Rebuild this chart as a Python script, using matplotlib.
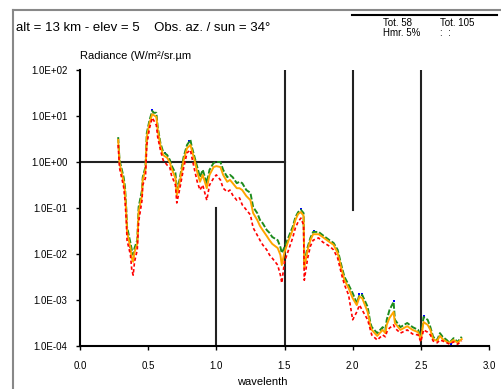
import numpy as np
import matplotlib
matplotlib.use("Agg")
import matplotlib.pyplot as plt

# wavelength (µm) and log10 radiance
wl = [0.28, 0.29, 0.32, 0.33, 0.34, 0.345, 0.37, 0.38, 0.39, 0.40,
      0.42, 0.43, 0.455, 0.46, 0.48, 0.49, 0.51, 0.53, 0.54, 0.56,
      0.57, 0.59, 0.61, 0.64, 0.66, 0.67, 0.70, 0.71, 0.73, 0.76,
      0.785, 0.81, 0.82, 0.84, 0.86, 0.88, 0.90, 0.93, 0.95, 0.98,
      1.00, 1.03, 1.05, 1.08, 1.10, 1.12, 1.15, 1.17, 1.19, 1.22,
      1.25, 1.27, 1.30, 1.32, 1.34, 1.37, 1.39, 1.41, 1.45, 1.47,
      1.48, 1.50, 1.53, 1.56, 1.58, 1.60, 1.62, 1.64, 1.645, 1.67,
      1.69, 1.71, 1.75, 1.78, 1.83, 1.86, 1.89, 1.92, 1.94, 1.97,
      2.00, 2.03, 2.05, 2.07, 2.11, 2.13, 2.14, 2.18, 2.22, 2.24,
      2.25, 2.27, 2.30, 2.31, 2.35, 2.40, 2.44, 2.48, 2.50, 2.52,
      2.55, 2.57, 2.59, 2.62, 2.64, 2.66, 2.69, 2.71, 2.74, 2.77, 2.80]

green_log = [0.54, 0.04, -0.33, -0.54, -1.04, -1.41, -1.76, -1.91, -2.02, -1.87,
             -1.70, -0.98, -0.61, -0.33, -0.11, 0.63, 0.91, 1.11, 1.07, 1.07,
             0.76, 0.41, 0.22, 0.15, 0.04, -0.07, -0.24, -0.61, -0.39, 0.11,
             0.37, 0.48, 0.33, 0.11, -0.11, -0.33, -0.17, -0.46, -0.17, -0.02,
             0.00, 0.00, -0.17, -0.33, -0.28, -0.33, -0.46, -0.43, -0.46, -0.61,
             -0.67, -0.98, -1.11, -1.26, -1.33, -1.48, -1.54, -1.63, -1.70, -1.85,
             -1.98, -1.85, -1.63, -1.41, -1.20, -1.09, -1.04, -1.11, -2.20, -1.85,
             -1.65, -1.52, -1.52, -1.59, -1.70, -1.76, -1.91, -2.28, -2.50, -2.67,
             -2.85, -3.07, -2.89, -2.89, -3.15, -3.50, -3.59, -3.72, -3.59, -3.65,
             -3.43, -3.22, -3.04, -3.43, -3.59, -3.50, -3.59, -3.65, -3.80, -3.37,
             -3.43, -3.59, -3.80, -3.87, -3.72, -3.80, -3.87, -3.93, -3.83, -3.91, -3.80]

orange_log = [0.48, -0.02, -0.43, -0.65, -1.15, -1.52, -1.87, -2.09, -2.17, -1.96,
              -1.78, -1.09, -0.72, -0.39, -0.17, 0.54, 0.85, 1.04, 1.02, 0.98,
              0.70, 0.35, 0.15, 0.09, -0.02, -0.13, -0.35, -0.72, -0.46, 0.04,
              0.30, 0.37, 0.26, 0.04, -0.22, -0.43, -0.28, -0.57, -0.28, -0.11,
              -0.09, -0.11, -0.28, -0.43, -0.39, -0.46, -0.57, -0.57, -0.61, -0.74,
              -0.83, -1.11, -1.26, -1.39, -1.48, -1.61, -1.70, -1.78, -1.87, -2.02,
              -2.24, -1.96, -1.70, -1.48, -1.26, -1.13, -1.09, -1.17, -2.30, -1.91,
              -1.70, -1.57, -1.57, -1.63, -1.74, -1.80, -1.98, -2.35, -2.57, -2.74,
              -2.96, -3.11, -2.93, -2.96, -3.26, -3.57, -3.65, -3.78, -3.65, -3.72,
              -3.54, -3.39, -3.26, -3.50, -3.65, -3.57, -3.65, -3.70, -3.87, -3.48,
              -3.54, -3.65, -3.85, -3.89, -3.78, -3.85, -3.91, -3.93, -3.87, -3.93, -3.85]

red_log = [0.37, -0.13, -0.54, -0.83, -1.30, -1.70, -2.02, -2.35, -2.46, -2.17,
           -1.91, -1.30, -0.83, -0.50, -0.35, 0.37, 0.74, 0.96, 0.91, 0.80,
           0.54, 0.26, 0.04, -0.07, -0.13, -0.28, -0.50, -0.89, -0.61, -0.13,
           0.20, 0.26, 0.11, -0.17, -0.43, -0.61, -0.50, -0.83, -0.50, -0.35,
           -0.28, -0.39, -0.57, -0.65, -0.61, -0.72, -0.83, -0.78, -0.93, -1.04,
           -1.15, -1.43, -1.59, -1.70, -1.80, -1.91, -2.02, -2.09, -2.24, -2.46,
           -2.63, -2.17, -1.91, -1.65, -1.43, -1.30, -1.22, -1.37, -2.57, -2.09,
           -1.83, -1.70, -1.65, -1.74, -1.83, -1.91, -2.09, -2.46, -2.67, -2.89,
           -3.43, -3.26, -3.11, -3.22, -3.43, -3.65, -3.76, -3.87, -3.76, -3.80,
           -3.70, -3.61, -3.54, -3.61, -3.72, -3.65, -3.74, -3.76, -3.91, -3.65,
           -3.70, -3.76, -3.89, -3.93, -3.87, -3.89, -3.93, -3.96, -3.91, -3.96, -3.89]

# a few blue points that show through
blue_wl = [0.37, 0.53, 0.62, 0.80, 1.62, 1.72, 2.05, 2.07, 2.30, 2.52, 2.72]
blue_log = [-1.85, 1.13, 0.20, 0.45, -1.02, -1.50, -2.87, -2.87, -3.02, -3.35, -3.96]

x_ticks = [0.0, 0.5, 1.0, 1.5, 2.0, 2.5, 3.0]
x_labels = ["0.0", "0.5", "1.0", "1.5", "2.0", "2.5", "3.0"]
y_ticks = [1e-4, 1e-3, 1e-2, 1e-1, 1e0, 1e1, 1e2]
y_labels = ["1.0E-04", "1.0E-03", "1.0E-02", "1.0E-01", "1.0E+00", "1.0E+01", "1.0E+02"]

plt.rcParams['font.family'] = ['Liberation Sans', 'DejaVu Sans']

fig = plt.figure(figsize=(5.01, 3.89), dpi=100)
ax = fig.add_axes([80 / 501, 1 - 346 / 389, 409 / 501, 276 / 389])

wl = np.array(wl)
ax.plot(blue_wl, 10 ** np.array(blue_log), 's', color='#0000ff', ms=2, mew=0)
ax.plot(wl, 10 ** np.array(green_log), color='#1e8c1e', lw=1.4, ls=(0, (3, 1)))
ax.plot(wl, 10 ** np.array(orange_log), color='#ffa500', lw=1.4)
ax.plot(wl, 10 ** np.array(red_log), color='#ff0000', lw=1.2, ls=(0, (2, 1.5)))

# reference segments inside the plot
seg = dict(color='#222222', lw=1.5, zorder=1)
ax.plot([0.0, 1.5], [1e0, 1e0], **seg)
ax.plot([1.5, 1.5], [1e-4, 1e2], **seg)
ax.plot([2.5, 2.5], [1e-4, 1e2], **seg)
ax.plot([2.0, 2.0], [1e-1 * 0.9, 1e2], **seg)
ax.plot([1.0, 1.0], [1e-4, 1e-1], **seg)

ax.set_yscale('log')
ax.set_xlim(0, 3.0)
ax.set_ylim(1e-4, 1e2)
ax.set_xticks(x_ticks)
ax.set_xticklabels(x_labels, fontsize=7)
ax.set_yticks(y_ticks)
ax.set_yticklabels(y_labels, fontsize=7)
ax.minorticks_off()
ax.tick_params(axis='y', length=3, width=1, pad=6)
ax.tick_params(axis='x', length=3, width=1, pad=8)
for s in ['top', 'right']:
    ax.spines[s].set_visible(False)
for s in ['left', 'bottom']:
    ax.spines[s].set_linewidth(1.5)

# frame and header texts
fig.add_artist(plt.Line2D([13 / 501, 13 / 501], [0, 1 - 10 / 389], color='#888888', lw=1.5))
fig.add_artist(plt.Line2D([13 / 501, 1], [1 - 10 / 389, 1 - 10 / 389], color='#888888', lw=1.5))
fig.add_artist(plt.Line2D([352 / 501, 497 / 501], [1 - 15 / 389, 1 - 15 / 389], color='black', lw=1.5))
fig.text(16 / 501, 1 - 31 / 389, 'alt = 13 km - elev = 5    Obs. az. / sun = 34°', fontsize=9.5, va='baseline')
fig.text(80 / 501, 1 - 59 / 389, 'Radiance (W/m²/sr.µm', fontsize=8, va='baseline')
fig.text(262 / 501, 1 - 385 / 389, 'wavelenth', fontsize=8, ha='center', va='baseline')
fig.text(383 / 501, 1 - 28 / 389, 'Tot. 58\nHmr. 5%', fontsize=7, va='center', linespacing=1.1)
fig.text(440 / 501, 1 - 28 / 389, 'Tot. 105\n:  :', fontsize=7, va='center', linespacing=1.1)

fig.savefig('out.png', dpi=100)
